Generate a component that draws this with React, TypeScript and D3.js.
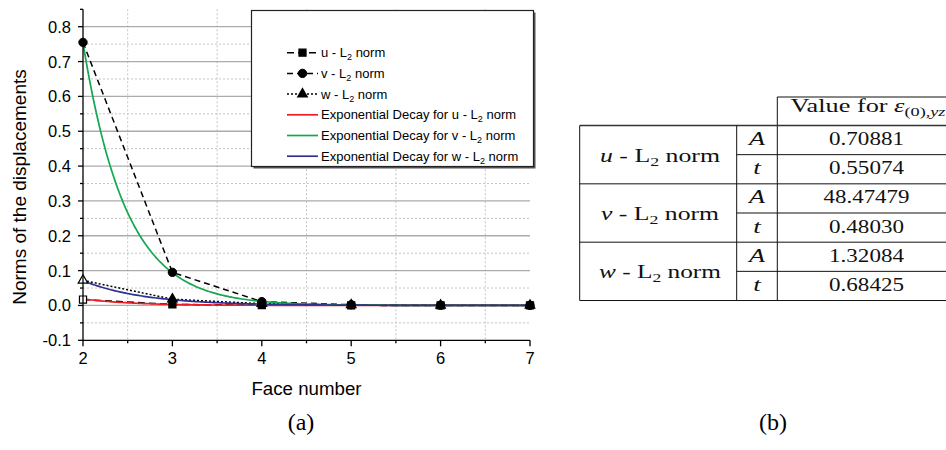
import React from 'react';
import * as d3 from 'd3';

// ---------- data ----------
const faceNumbers = [2, 3, 4, 5, 6, 7];
const uL2 = [0.017, 0.003, 0.0008, 0.0003, 0.0001, 0.0001];
const vL2 = [0.755, 0.095, 0.011, 0.002, 0.0008, 0.0003];
const wL2 = [0.072, 0.018, 0.005, 0.0015, 0.0005, 0.0002];

const componentNames = ['u', 'v', 'w'];
const fitA = [0.70881, 48.47479, 1.32084];
const fitT = [0.55074, 0.4803, 0.68425];
const fitALabels = ['0.70881', '48.47479', '1.32084'];
const fitTLabels = ['0.55074', '0.48030', '0.68425'];
const paramNames = ['A', 't'];

const xTickValues = [2, 3, 4, 5, 6, 7];
const xMinorValues = [2.5, 3.5, 4.5, 5.5, 6.5];
const yTickValues = [-0.1, 0.0, 0.1, 0.2, 0.3, 0.4, 0.5, 0.6, 0.7, 0.8];
const yMinorValues = [-0.05, 0.05, 0.15, 0.25, 0.35, 0.45, 0.55, 0.65, 0.75, 0.85];

const xTitle = 'Face number';
const yTitle = 'Norms of the displacements';

// ---------- layout ----------
const W = 946;
const H = 450;
const PL = 83, PR = 530, PT = 9.3, PB = 340.3;
const FIT_COLORS = ['#ee1c24', '#12a84e', '#2e3192'];
const SANS = "'Liberation Sans', Arial, sans-serif";
const SERIF_NAME = "'Liberation Serif'";
const SERIF = "'Liberation Serif', 'DejaVu Serif', serif";
const TFS = 18; // table font size
const TSUB = 12.5; // table subscript size

const x = d3.scaleLinear().domain([2, 7]).range([PL, PR]);
const y = d3.scaleLinear().domain([-0.1, 0.85]).range([PB, PT]);

const dataSeries = [
  { values: uL2, dash: '7,4', marker: 'square' },
  { values: vL2, dash: '6,4', marker: 'circle' },
  { values: wL2, dash: '2,2', marker: 'triangle' },
];

let _ctx: CanvasRenderingContext2D | null = null;
function measure(text: string, size: number, italic = false): number {
  if (!_ctx) _ctx = document.createElement('canvas').getContext('2d');
  if (!_ctx) return text.length * size * 0.5;
  _ctx.font = `${italic ? 'italic ' : ''}${size}px ${SERIF_NAME}, serif`;
  return _ctx.measureText(text).width;
}

function Marker({ type, cx, cy, hollow }: { type: string; cx: number; cy: number; hollow?: boolean }) {
  const fill = hollow ? '#fff' : '#000';
  if (type === 'square') {
    const s = d3.symbol(d3.symbolSquare, 50)();
    return <path d={s as string} transform={`translate(${cx},${cy})`} fill={fill} stroke="#000" strokeWidth={1.2} />;
  }
  if (type === 'circle') {
    return <circle cx={cx} cy={cy} r={4.2} fill={fill} stroke="#000" strokeWidth={1} />;
  }
  const t = d3.symbol(d3.symbolTriangle, 40)();
  return <path d={t as string} transform={`translate(${cx},${cy})`} fill={fill} stroke="#000" strokeWidth={1.2} />;
}

function L2Label({ prefix, suffix }: { prefix: string; suffix: string }) {
  return (
    <>
      {prefix}
      <tspan dy={3} fontSize={9}>2</tspan>
      <tspan dy={-3}>{suffix}</tspan>
    </>
  );
}

function Stretched({ cx, y: by, natural, target, children, italic }: { cx: number; y: number; natural: number; target: number; children: React.ReactNode; italic?: boolean }) {
  const sx = natural > 0 ? target / natural : 1;
  return (
    <text transform={`translate(${cx},${by}) scale(${sx},1)`} textAnchor="middle" fontStyle={italic ? 'italic' : undefined}>
      {children}
    </text>
  );
}

export default function App() {
  const line = d3
    .line<number>()
    .x((_, i) => x(faceNumbers[i]))
    .y((d) => y(d));

  const fitXs = d3.range(2, 7.0001, 0.02);
  const fitLine = (k: number) =>
    d3
      .line<number>()
      .x((d) => x(d))
      .y((d) => y(fitA[k] * Math.exp(-d / fitT[k])))(fitXs) as string;

  // legend
  const LX = 251.5, LY = 10.5, LW = 282, LH = 156;
  const legRow0 = 52.7, legStep = 20.7;
  const legLineX0 = 287, legLineX1 = 318, legTextX = 321;
  const legendItems = [
    ...componentNames.map((c, i) => ({ kind: 'data', idx: i, prefix: `${c} - L`, suffix: ' norm' })),
    ...componentNames.map((c, i) => ({ kind: 'fit', idx: i, prefix: `Exponential Decay for ${c} - L`, suffix: ' norm' })),
  ];

  // table
  const TL = 579.7, TC1 = 736.7, TC2 = 777.3, TR = 956;
  const headerTop = 97, rowTop = 125.5, rowH = 29.17;
  const rows = d3.range(7).map((i) => rowTop + i * rowH);
  const col1C = 660;
  const col2C = (TC1 + TC2) / 2;
  const col3C = 866.5;
  const valueWidth = (s: string) => (s.length === 8 ? 86 : 75);
  const groupWidths = [120, 118, 122];

  const headerNatural =
    measure('Value for ', TFS) + measure('ε', TFS, true) + measure('(0),', TSUB) + measure('yz', TSUB, true);

  return (
    <svg width={W} height={H} style={{ position: 'absolute', left: 0, top: 0, background: '#fff' }}>
      <rect x={0} y={0} width={W} height={H} fill="#fff" />

      {/* grid */}
      <g>
        {yMinorValues.filter((v) => v < 0.8).map((v) => (
          <line key={'ym' + v} x1={PL} x2={PR} y1={y(v)} y2={y(v)} stroke="#c4c4c4" strokeWidth={1} strokeDasharray="2,2" />
        ))}
        {xMinorValues.map((v) => (
          <line key={'xm' + v} x1={x(v)} x2={x(v)} y1={PT} y2={PB} stroke="#c4c4c4" strokeWidth={1} strokeDasharray="2,2" />
        ))}
        {yTickValues.filter((v) => v > -0.1).map((v) => (
          <line key={'yg' + v} x1={PL} x2={PR} y1={y(v)} y2={y(v)} stroke="#ababab" strokeWidth={1.3} />
        ))}
      </g>

      {/* data lines */}
      {dataSeries.map((s, k) => (
        <path key={'dl' + k} d={line(s.values) as string} fill="none" stroke="#000" strokeWidth={1.5} strokeDasharray={s.dash} />
      ))}

      {/* fit curves */}
      {[0, 1, 2].map((k) => (
        <path key={'fit' + k} d={fitLine(k)} fill="none" stroke={FIT_COLORS[k]} strokeWidth={1.7} />
      ))}

      {/* markers */}
      {dataSeries.map((s, k) =>
        s.values.map((v, i) => (
          <Marker key={`m${k}-${i}`} type={s.marker} cx={x(faceNumbers[i])} cy={y(v)} hollow={i === 0 && k !== 1} />
        ))
      )}

      {/* axes */}
      <g stroke="#000" strokeWidth={1.3}>
        <line x1={PL} x2={PL} y1={PT} y2={PB} />
        <line x1={PL} x2={PR} y1={PB} y2={PB} />
        {yTickValues.map((v) => (
          <line key={'yt' + v} x1={PL - 5} x2={PL} y1={y(v)} y2={y(v)} />
        ))}
        {yMinorValues.map((v) => (
          <line key={'ymt' + v} x1={PL - 3} x2={PL} y1={y(v)} y2={y(v)} />
        ))}
        {xTickValues.map((v) => (
          <line key={'xt' + v} x1={x(v)} x2={x(v)} y1={PB} y2={PB + 6} />
        ))}
        {xMinorValues.map((v) => (
          <line key={'xmt' + v} x1={x(v)} x2={x(v)} y1={PB} y2={PB + 3} />
        ))}
      </g>
      <g fontFamily={SANS} fontSize={16.5} fill="#000">
        {yTickValues.map((v) => (
          <text key={'yl' + v} x={PL - 12} y={y(v)} dy="0.36em" textAnchor="end">
            {v.toFixed(1)}
          </text>
        ))}
        {xTickValues.map((v) => (
          <text key={'xl' + v} x={x(v)} y={364} textAnchor="middle">
            {v}
          </text>
        ))}
      </g>
      <text x={(PL + PR) / 2} y={395} textAnchor="middle" fontFamily={SANS} fontSize={18.7}>
        {xTitle}
      </text>
      <text transform={`translate(26,187) rotate(-90)`} textAnchor="middle" fontFamily={SANS} fontSize={19}>
        {yTitle}
      </text>

      {/* legend */}
      <rect x={LX + 2} y={LY + 2} width={LW} height={LH} fill="#555" />
      <rect x={LX} y={LY} width={LW} height={LH} fill="#fff" stroke="#222" strokeWidth={1.2} />
      {legendItems.map((it, i) => {
        const cy = legRow0 + i * legStep;
        return (
          <g key={'leg' + i}>
            {it.kind === 'data' ? (
              <>
                <line x1={legLineX0} x2={legLineX1} y1={cy} y2={cy} stroke="#000" strokeWidth={1.5} strokeDasharray={dataSeries[it.idx].dash} />
                <Marker type={dataSeries[it.idx].marker} cx={(legLineX0 + legLineX1) / 2} cy={cy} />
              </>
            ) : (
              <line x1={legLineX0} x2={legLineX1} y1={cy} y2={cy} stroke={FIT_COLORS[it.idx]} strokeWidth={1.7} />
            )}
            <text x={legTextX} y={cy} dy="0.35em" fontFamily={SANS} fontSize={13} fill="#000">
              <L2Label prefix={it.prefix} suffix={it.suffix} />
            </text>
          </g>
        );
      })}

      {/* table */}
      <g stroke="#111" strokeWidth={1}>
        <line x1={TC2} x2={TR} y1={headerTop} y2={headerTop} />
        <line x1={TC2} x2={TC2} y1={headerTop} y2={rows[6]} />
        <line x1={TL} x2={TR} y1={rows[0]} y2={rows[0]} stroke="#333" strokeWidth={1.4} />
        <line x1={TL} x2={TL} y1={rows[0]} y2={rows[6]} />
        <line x1={TC1} x2={TC1} y1={rows[0]} y2={rows[6]} />
        {[1, 3, 5].map((r) => (
          <line key={'tr' + r} x1={TC1} x2={TR} y1={rows[r]} y2={rows[r]} />
        ))}
        {[2, 4, 6].map((r) => (
          <line key={'tg' + r} x1={TL} x2={TR} y1={rows[r]} y2={rows[r]} />
        ))}
      </g>
      <g fontFamily={SERIF} fontSize={TFS} fill="#111">
        <Stretched cx={868} y={112} natural={headerNatural} target={155}>
          Value for <tspan fontStyle="italic">ε</tspan>
          <tspan fontSize={TSUB} dy={4}>(0),</tspan>
          <tspan fontSize={TSUB} fontStyle="italic">yz</tspan>
        </Stretched>
        {componentNames.map((c, g) => {
          const gc = (rows[g * 2] + rows[g * 2 + 2]) / 2;
          const nat = measure(c, TFS, true) + measure(' - L', TFS) + measure('2', TSUB) + measure(' norm', TFS);
          return (
            <g key={'tgp' + g}>
              <Stretched cx={col1C} y={gc + 7} natural={nat} target={groupWidths[g]}>
                <tspan fontStyle="italic">{c}</tspan> - L
                <tspan fontSize={TSUB} dy={4}>2</tspan>
                <tspan dy={-4}> norm</tspan>
              </Stretched>
              {paramNames.map((p, j) => (
                <Stretched key={'p' + j} cx={col2C} y={rows[g * 2 + j] + 19.5} natural={measure(p, TFS, true)} target={p === 'A' ? 16 : 7.5} italic>
                  {p}
                </Stretched>
              ))}
              {[fitALabels[g], fitTLabels[g]].map((s, j) => (
                <Stretched key={'v' + j} cx={col3C} y={rows[g * 2 + j] + 19.5} natural={measure(s, TFS)} target={valueWidth(s)}>
                  {s}
                </Stretched>
              ))}
            </g>
          );
        })}
      </g>

      {/* panel labels */}
      <text x={301} y={430} textAnchor="middle" fontFamily={SERIF} fontSize={24}>(a)</text>
      <text x={773} y={430} textAnchor="middle" fontFamily={SERIF} fontSize={24}>(b)</text>
    </svg>
  );
}
